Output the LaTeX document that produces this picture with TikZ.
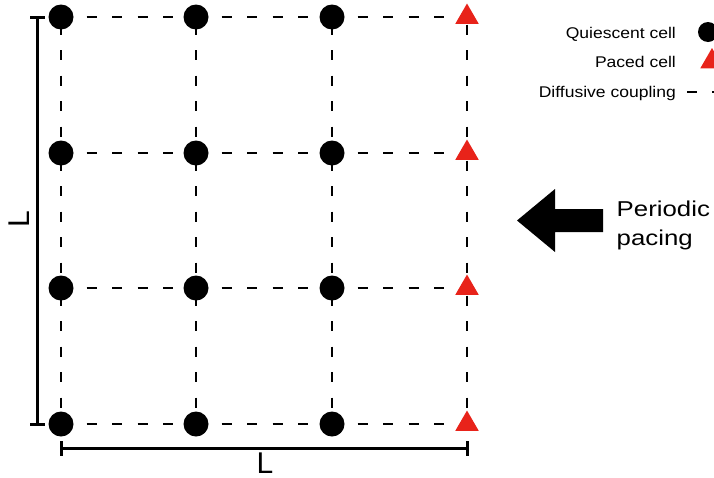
\documentclass[tikz,border=0pt]{standalone}
\usepackage{fontspec}
\setmainfont{Liberation Sans}
\newfontfamily\legfont{Liberation Sans}[FakeStretch=1.13]
\newfontfamily\bigfont{Liberation Sans}[FakeStretch=1.2]
\usetikzlibrary{shapes.geometric,backgrounds}
\definecolor{pacered}{RGB}{232,35,26}
\begin{document}
\begin{tikzpicture}[x=1pt,y=-1pt,
  quies/.style={circle,fill=black,inner sep=0pt,minimum size=25pt},
  paced/.style={regular polygon,regular polygon sides=3,fill=pacered,inner sep=0pt,minimum size=27pt},
  coupling/.style={line width=2pt,dash pattern=on 10pt off 15.5pt},
  vcoupling/.style={coupling,dash phase=18pt},
  bar/.style={line width=3pt},
  legtext/.style={anchor=base east,inner sep=0pt,font=\legfont\fontsize{15.5}{18}\selectfont},
  bigtext/.style={anchor=base west,inner sep=0pt,font=\bigfont\fontsize{21.5}{26}\selectfont},
  Ltext/.style={inner sep=0pt,font=\fontsize{30}{36}\selectfont}]
\useasboundingbox (0,0) rectangle (714,477);

% grid nodes
\foreach \x [count=\i] in {61,196,332}
  \foreach \y [count=\j] in {17,153,288,424}
    \node[quies] (n\i\j) at (\x,\y) {};
\foreach \y [count=\j] in {17,153,288,424}
  \node[paced] (n4\j) at (467,\y) {};

% couplings
\begin{scope}[on background layer]
  \foreach \i in {1,...,4}
    \foreach \j/\k in {1/2,2/3,3/4}
      \draw[vcoupling] (n\i\j.center) -- (n\i\k.center);
  \foreach \j in {1,...,4}
    \foreach \i/\k in {1/2,2/3,3/4}
      \draw[coupling] (n\i\j.center) -- (n\k\j.center);
\end{scope}

% L bars
\coordinate (vt) at (37.5,17);
\coordinate (vb) at (37.5,424);
\draw[bar] (vt) -- (vb);
\draw[bar] ([xshift=-7.5pt]vt) -- ([xshift=7.5pt]vt);
\draw[bar] ([xshift=-7.5pt]vb) -- ([xshift=7.5pt]vb);
\node[Ltext,rotate=90] (Lv) at (19,219) {L};

\coordinate (hl) at (61,448);
\coordinate (hr) at (467,448);
\draw[bar] (hl) -- (hr);
\draw[bar] ([yshift=-7.5pt]hl) -- ([yshift=7.5pt]hl);
\draw[bar] ([yshift=-7.5pt]hr) -- ([yshift=7.5pt]hr);
\node[Ltext] (Lh) at (265,463.5) {L};

% pacing arrow
\fill[black] (517,220.5) -- (555,189) -- (555,209) -- (603,209) -- (603,232) -- (555,232) -- (555,252) -- cycle;
\node[bigtext] (per) at (616.5,216) {Periodic};
\node[bigtext] (pac) at (616.5,245) {pacing};

% legend
\node[legtext] (lq) at (676,38) {Quiescent cell};
\node[legtext] (lp) at (676,67.5) {Paced cell};
\node[legtext] (ld) at (676,97) {Diffusive coupling};
\node[quies,minimum size=20pt] (mq) at (708,32) {};
\node[paced] (mp) at (712,61.5) {};
\coordinate (ld1) at (687,92);
\coordinate (ld2) at (714,92);
\draw[line width=2pt,dash pattern=on 10pt off 15pt] (ld1) -- (ld2);
\end{tikzpicture}
\end{document}
